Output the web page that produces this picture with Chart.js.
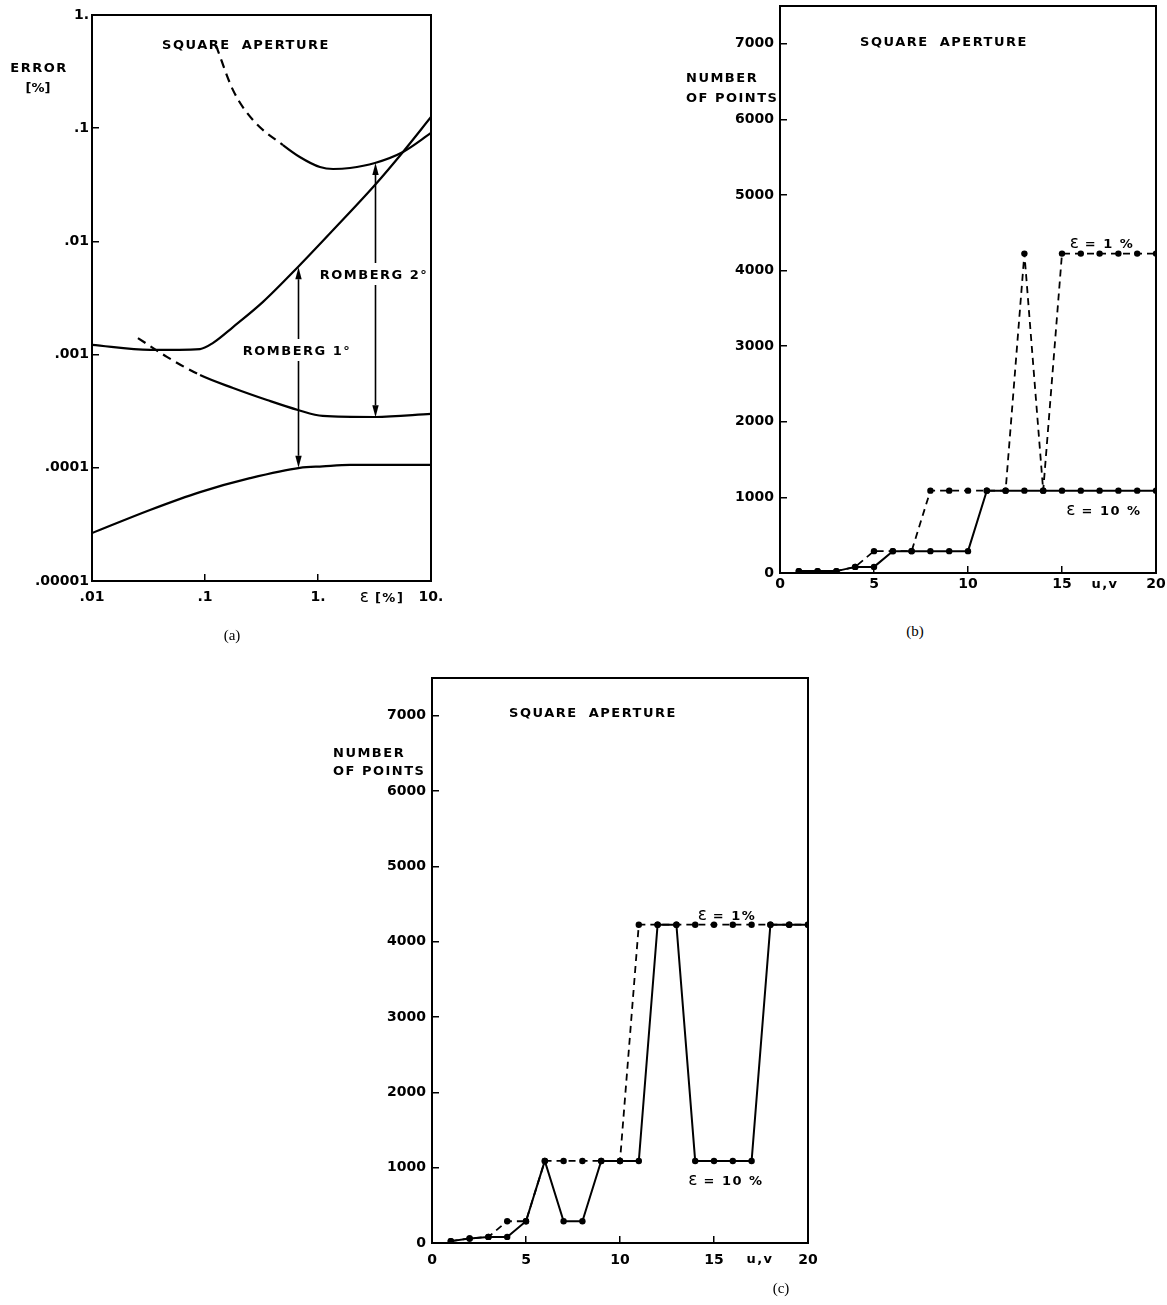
<!DOCTYPE html>
<html><head><meta charset="utf-8">
<script src="https://cdn.jsdelivr.net/npm/chart.js@4.4.1/dist/chart.umd.min.js"></script>
<style>
html,body{margin:0;padding:0;background:#fff;}
body{width:1167px;height:1305px;position:relative;overflow:hidden;}
canvas{position:absolute;}
.t{position:absolute;font-family:'DejaVu Sans',sans-serif;font-weight:bold;font-size:13px;color:#000;white-space:nowrap;letter-spacing:1.5px;line-height:1;transform:translate(-50%,-50%);}
.l{transform:translate(0,-50%);}
.e{font-size:17px;font-weight:normal;letter-spacing:0;}
.cap{position:absolute;font-family:'Liberation Serif',serif;font-size:15px;line-height:1;color:#000;transform:translate(-50%,-50%);}
</style></head><body>
<canvas id="ca" width="445" height="615" style="left:0;top:0"></canvas>
<canvas id="cb" width="437" height="600" style="left:730px;top:0"></canvas>
<canvas id="cc" width="440" height="600" style="left:382px;top:672px"></canvas>

<div class="t" style="left:246px;top:44px;word-spacing:5px">SQUARE APERTURE</div>
<div class="t" style="left:39px;top:67px">ERROR</div>
<div class="t" style="left:38px;top:87px;letter-spacing:0">[%]</div>
<div class="t" style="left:374px;top:274px">ROMBERG 2°</div>
<div class="t" style="left:297px;top:350px">ROMBERG 1°</div>
<div class="t" style="left:382px;top:596px"><span class="e">ε</span> [%]</div>
<div class="cap" style="left:232px;top:635px">(a)</div>

<div class="t" style="left:944px;top:41px;word-spacing:5px">SQUARE APERTURE</div>
<div class="t l" style="left:686px;top:77px">NUMBER</div>
<div class="t l" style="left:686px;top:97px">OF POINTS</div>
<div class="t" style="left:1102px;top:242px"><span class="e">ε</span> = 1 %</div>
<div class="t" style="left:1104px;top:509px"><span class="e">ε</span> = 10 %</div>
<div class="t" style="left:1105px;top:583px">u,v</div>
<div class="cap" style="left:915px;top:631px">(b)</div>

<div class="t" style="left:593px;top:712px;word-spacing:5px">SQUARE APERTURE</div>
<div class="t l" style="left:333px;top:752px">NUMBER</div>
<div class="t l" style="left:333px;top:770px">OF POINTS</div>
<div class="t" style="left:727px;top:914px"><span class="e">ε</span> = 1%</div>
<div class="t" style="left:726px;top:1179px"><span class="e">ε</span> = 10 %</div>
<div class="t" style="left:760px;top:1258px">u,v</div>
<div class="cap" style="left:781px;top:1288px">(c)</div>

<script>
// ---------- Panel (a): error vs epsilon (log-log) ----------
const aXTicks = [0.01, 0.1, 1, 10];
const aXTickLabels = ['.01', '.1', '1.', '10.'];
const aYTicks = [0.00001, 0.0001, 0.001, 0.01, 0.1, 1];
const aYTickLabels = ['.00001', '.0001', '.001', '.01', '.1', '1.'];

// Upper curve (dashed at small eps, then solid)
const aCurveAx = [0.125, 0.177, 0.266, 0.49, 0.69, 1.04, 1.36, 1.92, 3.19, 5.65, 10];
const aCurveAy = [0.54, 0.217, 0.118, 0.071, 0.0557, 0.0454, 0.0436, 0.0445, 0.0493, 0.0617, 0.0907];
const aCurveADashed = 3; // first segments dashed
// Rising curve
const aCurveBx = [0.01, 0.0326, 0.0904, 0.118, 0.177, 0.326, 0.665, 1.36, 3.19, 5.65, 10];
const aCurveBy = [0.00122, 0.0011, 0.00112, 0.00127, 0.00175, 0.00292, 0.00594, 0.0126, 0.0315, 0.0617, 0.1256];
// Middle curve (dashed at small eps, then solid)
const aCurveCx = [0.0255, 0.046, 0.0904, 0.177, 0.354, 0.665, 1.1, 3.19, 10];
const aCurveCy = [0.0014, 0.000955, 0.00066, 0.000507, 0.000397, 0.000324, 0.000287, 0.000281, 0.000299];
const aCurveCDashed = 2;
// Bottom curve
const aCurveDx = [0.01, 0.0326, 0.0904, 0.25, 0.69, 1.1, 1.92, 10];
const aCurveDy = [0.0000265, 0.0000424, 0.000061, 0.000081, 0.0001, 0.000103, 0.000106, 0.000106];
// Romberg arrows
const aArrowX = [0.665, 3.19];
const aArrowTop = [0.0059, 0.0493];
const aArrowBottom = [0.0001, 0.00028];
const aArrowGap = [[339, 361], [263, 285]];

// ---------- Panels (b) and (c): number of points vs u,v ----------
const uv = [1,2,3,4,5,6,7,8,9,10,11,12,13,14,15,16,17,18,19,20];
const bEps1  = [25,25,25,81,289,289,289,1089,1089,1089,1089,1089,4225,1089,4225,4225,4225,4225,4225,4225];
const bEps10 = [25,25,25,81,81,289,289,289,289,289,1089,1089,1089,1089,1089,1089,1089,1089,1089,1089];
const cEps1  = [25,60,81,289,289,1089,1089,1089,1089,1089,4225,4225,4225,4225,4225,4225,4225,4225,4225,4225];
const cEps10 = [25,60,81,81,289,1089,289,289,1089,1089,1089,4225,4225,1089,1089,1089,1089,4225,4225,4225];
const nXTicks = [0, 5, 10, 15, 20];
const nYTicks = [0, 1000, 2000, 3000, 4000, 5000, 6000, 7000];

const FONT = {family: "'DejaVu Sans', sans-serif", size: 14, weight: 'bold'};
const pts = (xs, ys) => xs.map((x, i) => ({x: x, y: ys[i]}));

const framePlugin = {
  id: 'frame',
  afterDraw(chart) {
    const {ctx, chartArea: a} = chart;
    ctx.save();
    ctx.strokeStyle = '#000';
    ctx.lineWidth = 2;
    ctx.strokeRect(a.left, a.top, a.right - a.left, a.bottom - a.top);
    ctx.restore();
  }
};

const arrowPlugin = {
  id: 'arrows',
  afterDatasetsDraw(chart) {
    const {ctx} = chart;
    const xs = chart.scales.x, ys = chart.scales.y;
    ctx.save();
    ctx.strokeStyle = '#000';
    ctx.fillStyle = '#000';
    ctx.lineWidth = 1.6;
    aArrowX.forEach((xv, i) => {
      const px = Math.round(xs.getPixelForValue(xv)) + 0.5;
      const pt = ys.getPixelForValue(aArrowTop[i]);
      const pb = ys.getPixelForValue(aArrowBottom[i]);
      const g = aArrowGap[i];
      const head = 12, hw = 3.2;
      ctx.beginPath();
      ctx.moveTo(px, pt + head); ctx.lineTo(px, g[0]);
      ctx.moveTo(px, g[1]); ctx.lineTo(px, pb - head);
      ctx.stroke();
      ctx.beginPath();
      ctx.moveTo(px, pt); ctx.lineTo(px - hw, pt + head); ctx.lineTo(px + hw, pt + head); ctx.closePath();
      ctx.fill();
      ctx.beginPath();
      ctx.moveTo(px, pb); ctx.lineTo(px - hw, pb - head); ctx.lineTo(px + hw, pb - head); ctx.closePath();
      ctx.fill();
    });
    ctx.restore();
  }
};

function curve(xs, ys, dashedUpTo) {
  return {
    data: pts(xs, ys),
    borderColor: '#000',
    borderWidth: 2.2,
    pointRadius: 0,
    fill: false,
    cubicInterpolationMode: 'monotone',
    segment: {
      borderDash: ctx => (dashedUpTo && ctx.p1DataIndex <= dashedUpTo) ? [9, 6] : []
    }
  };
}

function axisCommon(size, isX, pad) {
  return {
    grid: {drawOnChartArea: false, tickLength: -7, color: '#000', lineWidth: 1.5},
    border: {color: '#000', width: 2},
    ticks: {font: FONT, color: '#000', padding: pad, autoSkip: false, maxRotation: 0},
    afterFit: s => {
      if (isX) s.height = size; else s.width = size;
      s.paddingLeft = 0; s.paddingRight = 0; s.paddingTop = 0; s.paddingBottom = 0;
    }
  };
}

// ---- chart (a)
(function () {
  const xa = axisCommon(34, true, 15);
  const ya = axisCommon(92, false, 10);
  new Chart(document.getElementById('ca'), {
    type: 'line',
    data: {datasets: [
      curve(aCurveAx, aCurveAy, aCurveADashed),
      curve(aCurveBx, aCurveBy, 0),
      curve(aCurveCx, aCurveCy, aCurveCDashed),
      curve(aCurveDx, aCurveDy, 0)
    ]},
    options: {
      responsive: false, animation: false, devicePixelRatio: 1,
      layout: {padding: {top: 15, right: 14, left: 0, bottom: 0}},
      plugins: {legend: {display: false}, tooltip: {enabled: false}},
      scales: {
        x: Object.assign(xa, {
          type: 'logarithmic', min: 0.01, max: 10,
          afterBuildTicks: s => { s.ticks = aXTicks.map(v => ({value: v})); },
          ticks: Object.assign(xa.ticks, {callback: (v, i) => aXTickLabels[i]})
        }),
        y: Object.assign(ya, {
          type: 'logarithmic', min: 0.00001, max: 1,
          afterBuildTicks: s => { s.ticks = aYTicks.map(v => ({value: v})); },
          ticks: Object.assign(ya.ticks, {callback: (v, i) => aYTickLabels[i]})
        })
      }
    },
    plugins: [framePlugin, arrowPlugin]
  });
})();

// ---- charts (b), (c)
function countChart(id, eps1, eps10, topPad, rightPad, xH, xPad) {
  const xa = axisCommon(xH, true, xPad);
  const ya = axisCommon(50, false, 13);
  new Chart(document.getElementById(id), {
    type: 'line',
    data: {datasets: [
      {data: pts(uv, eps1), borderColor: '#000', borderWidth: 1.8, borderDash: [7, 5],
       pointRadius: 3.2, pointBackgroundColor: '#000', pointBorderWidth: 0, tension: 0},
      {data: pts(uv, eps10), borderColor: '#000', borderWidth: 2,
       pointRadius: 3.2, pointBackgroundColor: '#000', pointBorderWidth: 0, tension: 0}
    ]},
    options: {
      responsive: false, animation: false, devicePixelRatio: 1,
      layout: {padding: {top: topPad, right: rightPad, left: 0, bottom: 0}},
      plugins: {legend: {display: false}, tooltip: {enabled: false}},
      scales: {
        x: Object.assign(xa, {
          type: 'linear', min: 0, max: 20,
          afterBuildTicks: s => { s.ticks = nXTicks.map(v => ({value: v})); },
          ticks: Object.assign(xa.ticks, {callback: v => String(v)})
        }),
        y: Object.assign(ya, {
          type: 'linear', min: 0, max: 7500,
          afterBuildTicks: s => { s.ticks = nYTicks.map(v => ({value: v})); },
          ticks: Object.assign(ya.ticks, {callback: v => String(v)})
        })
      }
    },
    plugins: [framePlugin]
  });
}
countChart('cb', bEps1, bEps10, 6, 11, 27, 10);
countChart('cc', cEps1, cEps10, 6, 14, 29, 16);
</script>
</body></html>
